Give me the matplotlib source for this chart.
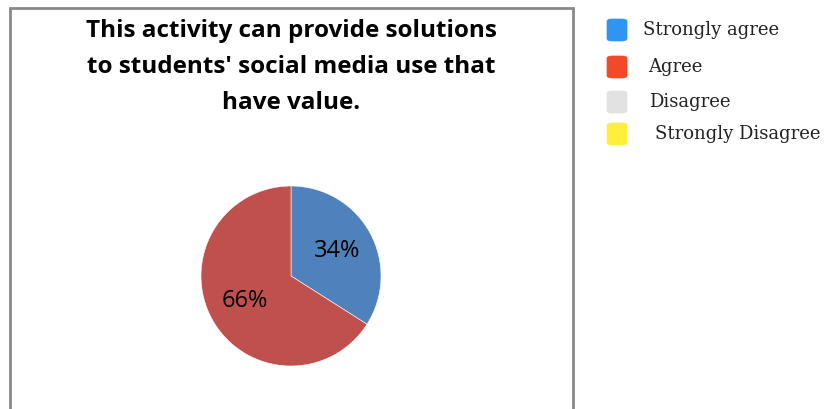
import matplotlib
matplotlib.use("Agg")
import matplotlib.pyplot as plt
from matplotlib.patches import Rectangle, FancyBboxPatch

# Data
title = "This activity can provide solutions\nto students' social media use that\nhave value."
pie_labels = ["Strongly agree", "Agree"]
pie_values = [34, 66]
pie_colors = ["#4F81BD", "#C0504D"]

legend_labels = ["Strongly agree", "Agree", "Disagree", "Strongly Disagree"]
legend_colors = ["#2E96F2", "#F04A28", "#E2E2E2", "#FFEE3A"]

W, H = 826, 409
fig = plt.figure(figsize=(W / 100, H / 100), dpi=100)
fig.patch.set_facecolor("white")

# Chart border box
fig.patches.append(Rectangle((10 / W, -0.05), (573 - 10) / W, (H - 8) / H + 0.05,
                             transform=fig.transFigure, fill=False,
                             edgecolor="#8A8A8A", linewidth=2))

# Title
fig.text(291 / W, 1 - 67 / H, title, ha="center", va="center",
         fontsize=17.5, fontweight="bold", family=["Open Sans", "DejaVu Sans"],
         linespacing=1.68, color="black")

# Pie
r = 90
cx, cy = 291, 276
ax = fig.add_axes([(cx - r) / W, 1 - (cy + r) / H, 2 * r / W, 2 * r / H])
wedges, texts, autotexts = ax.pie(
    pie_values, colors=pie_colors, startangle=90, counterclock=False,
    autopct=lambda p: f"{p:.0f}%", pctdistance=0.58,
    wedgeprops=dict(edgecolor="white", linewidth=0.4),
    textprops=dict(fontsize=17, family=["Open Sans", "DejaVu Sans"], color="black"))
ax.set_xlim(-1, 1)
ax.set_ylim(-1, 1)
ax.set_aspect("auto")
ax.axis("off")

# Legend (manual, with rounded squares)
ys = [30, 67, 102, 134]
txs = [643, 648, 649, 655]
sw, sh = 20, 22
for lab, col, y, tx in zip(legend_labels, legend_colors, ys, txs):
    fig.patches.append(FancyBboxPatch((607 / W, 1 - (y + sh / 2) / H), sw / W, sh / H,
                                      boxstyle="round,pad=0,rounding_size=0.006",
                                      transform=fig.transFigure,
                                      facecolor=col, edgecolor=col, linewidth=0.5))
    fig.text(tx / W, 1 - y / H, lab, ha="left", va="center", fontsize=13,
             family=["DejaVu Serif"], color="#222222")

fig.savefig("out.png", dpi=100, facecolor="white")
